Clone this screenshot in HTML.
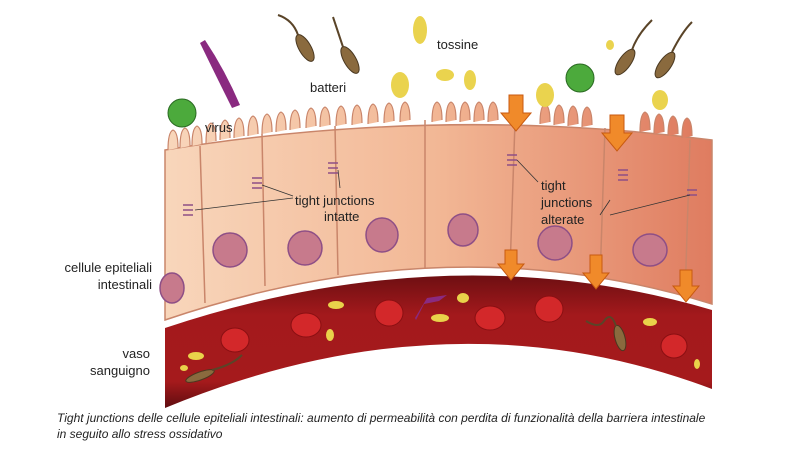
<!DOCTYPE html>
<html><head><meta charset="utf-8"><style>
body{margin:0;background:#fff;width:800px;height:445px;overflow:hidden;font-family:"Liberation Sans",sans-serif}
</style></head><body>
<svg width="800" height="445" viewBox="0 0 800 445" xmlns="http://www.w3.org/2000/svg">
<defs>
<linearGradient id="cell" x1="0" x2="1" y1="0" y2="0">
<stop offset="0" stop-color="#f8d6bb"/><stop offset="0.5" stop-color="#f2b795"/><stop offset="1" stop-color="#df7c60"/></linearGradient>
<linearGradient id="vas" x1="0" x2="0" y1="0" y2="1">
<stop offset="0" stop-color="#6e0f12"/><stop offset="0.3" stop-color="#a3191c"/><stop offset="0.8" stop-color="#a51a1c"/><stop offset="1" stop-color="#5f0d10"/></linearGradient>
</defs>
<!-- vessel -->
<path d="M165 328 Q450 233 712 310 L712 389 Q450 290 165 408 Z" fill="url(#vas)"/>
<!-- cells -->
<path d="M165 150 Q440 105 712 140 L712 304 Q450 223 165 320 Z" fill="url(#cell)" stroke="#c9856a" stroke-width="1.5"/>
<!-- villi -->
<g fill="url(#cell)" stroke="#c9856a" stroke-width="1.2">
<path d="M168 150 q0 -18 5 -20 q5 2 5 18 M180 148 q0 -18 5 -20 q5 2 5 18 M192 146 q0 -18 5 -20 q5 2 5 18 M206 143 q0 -18 5 -20 q5 2 5 18 M220 140 q0 -18 5 -20 q5 2 5 18 M234 138 q0 -18 5 -20 q5 2 5 18 M248 136 q0 -18 5 -20 q5 2 5 18 M262 134 q0 -18 5 -20 q5 2 5 18 M276 132 q0 -18 5 -20 q5 2 5 18 M290 130 q0 -18 5 -20 q5 2 5 18 M306 128 q0 -18 5 -20 q5 2 5 18 M320 127 q0 -18 5 -20 q5 2 5 18 M336 126 q0 -18 5 -20 q5 2 5 18 M352 125 q0 -18 5 -20 q5 2 5 18 M368 124 q0 -18 5 -20 q5 2 5 18 M384 123 q0 -18 5 -20 q5 2 5 18 M400 122 q0 -18 5 -20 q5 2 5 18 M432 122 q0 -18 5 -20 q5 2 5 18 M446 122 q0 -18 5 -20 q5 2 5 18 M460 122 q0 -18 5 -20 q5 2 5 18 M474 122 q0 -18 5 -20 q5 2 5 18 M488 122 q0 -18 5 -20 q5 2 5 18 M540 124 q0 -18 5 -20 q5 2 5 18 M554 125 q0 -18 5 -20 q5 2 5 18 M568 126 q0 -18 5 -20 q5 2 5 18 M582 127 q0 -18 5 -20 q5 2 5 18 M640 132 q0 -18 5 -20 q5 2 5 18 M654 134 q0 -18 5 -20 q5 2 5 18 M668 136 q0 -18 5 -20 q5 2 5 18 M682 138 q0 -18 5 -20 q5 2 5 18"/>
</g>
<!-- cell borders -->
<g stroke="#c9856a" stroke-width="1.5" fill="none">
<path d="M200 146 L205 303"/><path d="M262 134 L265 286"/><path d="M335 126 L338 275"/><path d="M425 120 L425 268"/>
<path d="M515 122 L510 270"/><path d="M605 128 L600 281"/><path d="M690 140 L685 298"/>
</g>
<!-- nuclei -->
<g fill="#c77a8c" stroke="#8e4f86" stroke-width="1.5">
<ellipse cx="172" cy="288" rx="12" ry="15"/><ellipse cx="230" cy="250" rx="17" ry="17"/><ellipse cx="305" cy="248" rx="17" ry="17"/><ellipse cx="382" cy="235" rx="16" ry="17"/><ellipse cx="463" cy="230" rx="15" ry="16"/><ellipse cx="555" cy="243" rx="17" ry="17"/><ellipse cx="650" cy="250" rx="17" ry="16"/>
</g>
<!-- blood cells -->
<g fill="#d3282a" stroke="#8a0f12">
<ellipse cx="235" cy="340" rx="14" ry="12"/><ellipse cx="306" cy="325" rx="15" ry="12"/><ellipse cx="389" cy="313" rx="14" ry="13"/><ellipse cx="490" cy="318" rx="15" ry="12"/><ellipse cx="549" cy="309" rx="14" ry="13"/><ellipse cx="674" cy="346" rx="13" ry="12"/>
</g>
<g fill="#e9d24a"><ellipse cx="336" cy="305" rx="8" ry="4"/><ellipse cx="440" cy="318" rx="9" ry="4"/><ellipse cx="463" cy="298" rx="6" ry="5"/><ellipse cx="650" cy="322" rx="7" ry="4"/><ellipse cx="196" cy="356" rx="8" ry="4"/><ellipse cx="330" cy="335" rx="4" ry="6"/><ellipse cx="184" cy="368" rx="4" ry="3"/><ellipse cx="697" cy="364" rx="3" ry="5"/></g>
<!-- arrows -->
<g fill="#f08a2a" stroke="#c85a10">
<path d="M509 95 h14 v18 h8 l-15 18 l-15 -18 h8 z"/><path d="M610 115 h14 v18 h8 l-15 18 l-15 -18 h8 z"/>
<path d="M505 250 h12 v14 h7 l-13 16 l-13 -16 h7 z"/><path d="M590 255 h12 v18 h7 l-13 16 l-13 -16 h7 z"/><path d="M680 270 h12 v16 h7 l-13 16 l-13 -16 h7 z"/>
</g>
<!-- toxins -->
<g fill="#ead34e"><ellipse cx="420" cy="30" rx="7" ry="14"/><ellipse cx="445" cy="75" rx="9" ry="6"/><ellipse cx="400" cy="85" rx="9" ry="13"/><ellipse cx="470" cy="80" rx="6" ry="10"/><ellipse cx="545" cy="95" rx="9" ry="12"/><ellipse cx="660" cy="100" rx="8" ry="10"/><ellipse cx="610" cy="45" rx="4" ry="5"/></g>
<!-- bacteria -->
<g fill="#8a6a3e" stroke="#4a3820"><ellipse cx="305" cy="48" rx="6" ry="15" transform="rotate(-30 305 48)"/><ellipse cx="350" cy="60" rx="6" ry="15" transform="rotate(-30 350 60)"/><ellipse cx="625" cy="62" rx="6" ry="15" transform="rotate(35 625 62)"/><ellipse cx="665" cy="65" rx="6" ry="15" transform="rotate(35 665 65)"/><ellipse cx="200" cy="376" rx="15" ry="4" transform="rotate(-20 200 376)"/><ellipse cx="620" cy="338" rx="5" ry="13" transform="rotate(-15 620 338)"/></g>
<g stroke="#5a4428" stroke-width="2" fill="none"><path d="M298 35 q-5 -15 -20 -20"/><path d="M343 47 q-5 -15 -10 -30"/><path d="M632 50 q5 -15 20 -30"/><path d="M672 52 q10 -20 20 -30"/><path d="M212 370 q20 -5 30 -15"/><path d="M616 326 q-5 -15 -12 -5 q-5 8 -18 0"/></g>
<!-- virus -->
<g fill="#4caa3c" stroke="#2a6a22"><circle cx="182" cy="113" r="14"/><circle cx="580" cy="78" r="14"/></g>
<g fill="#8a2a80"><path d="M205 40 q20 30 35 65 l-8 3 q-15 -30 -32 -65 z"/><path d="M415 318 l12 -20 l20 -3 l-8 6 l-15 3 l-8 16 z"/></g>
<!-- junctions -->
<g stroke="#8e4f86" stroke-width="1.5" fill="none">
<path d="M183 205 h10 M183 210 h10 M183 215 h10"/><path d="M252 178 h10 M252 183 h10 M252 188 h10"/><path d="M328 163 h10 M328 168 h10 M328 173 h10"/>
<path d="M507 155 h10 M507 160 h10 M507 165 h10"/><path d="M618 170 h10 M618 175 h10 M618 180 h10"/><path d="M687 190 h10 M687 195 h10"/>
</g>
<g stroke="#333" stroke-width="0.8"><line x1="195" y1="210" x2="293" y2="198"/><line x1="262" y1="185" x2="293" y2="196"/><line x1="338" y1="170" x2="340" y2="188"/><line x1="517" y1="160" x2="538" y2="182"/><line x1="610" y1="200" x2="600" y2="215"/><line x1="610" y1="215" x2="690" y2="195"/></g>
<g font-size="13" fill="#222">
<text x="437" y="49">tossine</text><text x="310" y="92">batteri</text><text x="205" y="132">virus</text>
<text x="295" y="205">tight junctions</text><text x="324" y="221">intatte</text>
<text x="541" y="190">tight</text><text x="541" y="207">junctions</text><text x="541" y="224">alterate</text>
<text x="152" y="272" text-anchor="end">cellule epiteliali</text><text x="152" y="289" text-anchor="end">intestinali</text>
<text x="150" y="358" text-anchor="end">vaso</text><text x="150" y="375" text-anchor="end">sanguigno</text>
</g>
<g font-size="12" font-style="italic" fill="#222"><text x="57" y="422">Tight junctions  delle cellule epiteliali intestinali: aumento di permeabilità con perdita di funzionalità della barriera intestinale</text><text x="57" y="438">in seguito allo stress ossidativo</text></g>
</svg>
</body></html>
